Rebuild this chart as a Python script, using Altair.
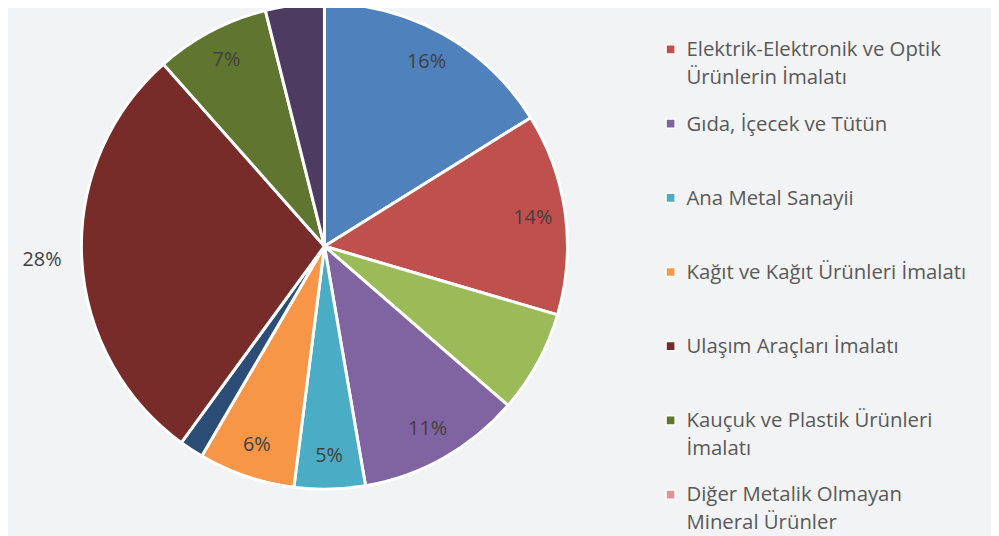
import altair as alt
import pandas as pd

# Pie slices (clockwise from 12 o'clock)
sectors = [
    "Makine ve Teçhizat İmalatı",
    "Elektrik-Elektronik ve Optik\nÜrünlerin İmalatı",
    "Kimya Sanayii",
    "Gıda, İçecek ve Tütün",
    "Ana Metal Sanayii",
    "Kağıt ve Kağıt Ürünleri İmalatı",
    "Mobilya İmalatı",
    "Ulaşım Araçları İmalatı",
    "Kauçuk ve Plastik Ürünleri\nİmalatı",
    "Tekstil Ürünleri İmalatı",
]
shares = [16.1, 13.4, 6.8, 10.9, 4.7, 6.4, 1.6, 28.4, 7.6, 3.9]
labels_inside = ["16%", "14%", "", "11%", "5%", "6%", "", "", "7%", ""]
labels_outside = ["", "", "", "", "", "", "", "28%", "", ""]
colors = ["#4F81BD", "#C0504D", "#9BBB59", "#8064A2", "#4BACC6",
          "#F79646", "#2C4D75", "#772C2A", "#5F7530", "#4D3B62"]

# Legend entries shown on the right
legend_names = [
    "Elektrik-Elektronik ve Optik\nÜrünlerin İmalatı",
    "Gıda, İçecek ve Tütün",
    "Ana Metal Sanayii",
    "Kağıt ve Kağıt Ürünleri İmalatı",
    "Ulaşım Araçları İmalatı",
    "Kauçuk ve Plastik Ürünleri\nİmalatı",
    "Diğer Metalik Olmayan\nMineral Ürünler",
]
extra_name = "Diğer Metalik Olmayan\nMineral Ürünler"
extra_color = "#D99694"

pie_df = pd.DataFrame({
    "sector": sectors,
    "share": shares,
    "lin": labels_inside,
    "lout": labels_outside,
    "idx": list(range(len(sectors))),
})
leg_df = pd.DataFrame({"name": legend_names})

color_scale = alt.Scale(domain=sectors + [extra_name], range=colors + [extra_color])

FONT = "Open Sans"
CX, CY, R = 319, 238, 245

base = alt.Chart(pie_df).encode(
    theta=alt.Theta("share:Q", stack=True),
    order=alt.Order("idx:Q", sort="ascending"),
)

arcs = base.mark_arc(outerRadius=R, stroke="white", strokeWidth=3).encode(
    color=alt.Color("sector:N", scale=color_scale, legend=None),
    x=alt.value(CX), y=alt.value(CY),
)
txt_in = base.mark_text(radius=212, fontSize=20, font=FONT, color="#404040").encode(
    text="lin:N", x=alt.value(CX), y=alt.value(CY),
)
txt_out = base.mark_text(radius=285, fontSize=20, font=FONT, color="#404040").encode(
    text="lout:N", x=alt.value(CX), y=alt.value(CY),
)

leg_y = alt.Y("name:N", sort=legend_names, axis=None,
              scale=alt.Scale(type="point", padding=0.53))
leg_sq = alt.Chart(leg_df).mark_square(size=85, opacity=1, stroke="white", strokeWidth=1.5).encode(
    y=leg_y, x=alt.value(668),
    color=alt.Color("name:N", scale=color_scale, legend=None),
)
leg_tx = alt.Chart(leg_df).mark_text(
    align="left", baseline="alphabetic", dy=7, lineBreak="\n", lineHeight=28,
    fontSize=20.5, font=FONT, color="#595959",
).encode(y=leg_y, x=alt.value(684), text="name:N")

chart = alt.layer(arcs, txt_in, txt_out, leg_sq, leg_tx).properties(
    width=991, height=528,
    autosize=alt.AutoSizeParams(type="none"),
    padding=0,
    background="#f2f3f5",
).configure_view(stroke=None)

chart.save("out.html", embed_options={"renderer": "svg", "actions": False})
